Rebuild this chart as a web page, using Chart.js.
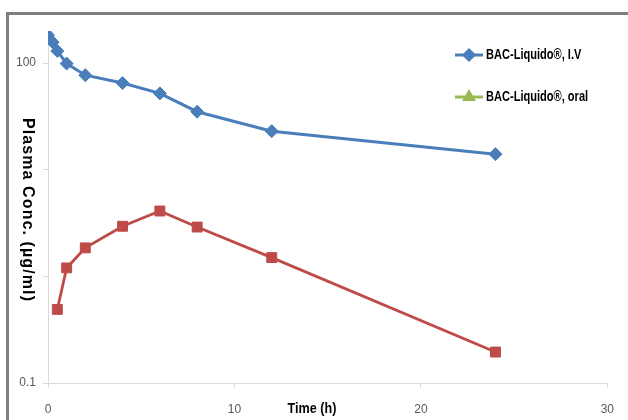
<!DOCTYPE html>
<html>
<head>
<meta charset="utf-8">
<script src="https://cdn.jsdelivr.net/npm/chart.js@4/dist/chart.umd.min.js"></script>
<style>
  html, body { margin: 0; padding: 0; background: #fff; }
</style>
</head>
<body>
<canvas id="c" width="628" height="420"></canvas>
<script>
// time points (h) and plasma concentrations (µg/ml)
const timeIV = [0, 0.25, 0.5, 1, 2, 4, 6, 8, 12, 24];
const concIV = [183, 157, 130, 99, 77, 65, 52, 35, 23, 14];
const timeOral = [0.5, 1, 2, 4, 6, 8, 12, 24];
const concOral = [0.49, 1.2, 1.85, 2.95, 4.1, 2.9, 1.5, 0.195];
const timeOralLegend = [];   // green legend series has no visible points
const concOralLegend = [];

const xTicks = [0, 10, 20, 30];
const yTicks = [0.1, 1, 10, 100];
const yTickLabels = ['0.1', '', '', '100'];  // 1 and 10 sit under the axis title
const seriesNames = ['BAC-Liquido®, I.V', 'BAC-Liquido®, oral'];

const FONT = '"Liberation Sans", Arial, sans-serif';

const toXY = (xs, ys) => xs.map((x, i) => ({ x: x, y: ys[i] }));

// draw text squeezed horizontally, to get the condensed look of the original
function narrowText(ctx, text, x, y, squeeze) {
  ctx.save();
  ctx.translate(x, y);
  ctx.scale(squeeze, 1);
  ctx.fillText(text, 0, 0);
  ctx.restore();
}

const decorations = {
  id: 'decorations',
  afterDraw(chart) {
    const ctx = chart.ctx;
    ctx.save();

    // outer frame (only top and left edges show)
    ctx.strokeStyle = '#808080';
    ctx.lineWidth = 3;
    ctx.beginPath();
    ctx.moveTo(7.5, 420);
    ctx.lineTo(7.5, 13.5);
    ctx.lineTo(628, 13.5);
    ctx.stroke();

    // axis titles
    ctx.fillStyle = '#000';
    ctx.textBaseline = 'middle';
    ctx.textAlign = 'center';
    ctx.font = 'bold 15px ' + FONT;
    narrowText(ctx, 'Time (h)', 312, 409, 0.84);

    ctx.save();
    ctx.translate(27, 210);
    ctx.rotate(Math.PI / 2);
    ctx.font = 'bold 16px ' + FONT;
    ctx.letterSpacing = '1.1px';
    ctx.fillText('Plasma Conc. (µg/ml)', 0, 0);
    ctx.restore();

    // legend
    const rows = [55, 97];
    chart.data.datasets.slice(0, 2).forEach((ds, i) => {
      const y = rows[i];
      ctx.strokeStyle = ds.borderColor;
      ctx.fillStyle = ds.backgroundColor;
      ctx.lineWidth = 3;
      ctx.beginPath();
      ctx.moveTo(455, y);
      ctx.lineTo(483, y);
      ctx.stroke();
      Chart.helpers.drawPoint(ctx, { pointStyle: ds.pointStyle, radius: 5, rotation: 0, borderWidth: 1 }, 469, y);
      ctx.fillStyle = '#000';
      ctx.textAlign = 'left';
      ctx.font = 'bold 14px ' + FONT;
      narrowText(ctx, ds.label, 486, y, 0.79);
    });

    ctx.restore();
  }
};

new Chart(document.getElementById('c'), {
  type: 'line',
  data: {
    datasets: [
      {
        label: seriesNames[0],
        data: toXY(timeIV, concIV),
        borderColor: '#4a7ebb',
        backgroundColor: '#4a7ebb',
        borderWidth: 3,
        pointStyle: 'rectRot',
        pointRadius: 6.5,
        pointBorderWidth: 1
      },
      {
        label: seriesNames[1],
        data: toXY(timeOralLegend, concOralLegend),
        borderColor: '#98b954',
        backgroundColor: '#98b954',
        borderWidth: 3,
        pointStyle: 'triangle',
        pointRadius: 6
      },
      {
        label: 'oral',
        data: toXY(timeOral, concOral),
        borderColor: '#be4b48',
        backgroundColor: '#be4b48',
        borderWidth: 2.8,
        pointStyle: 'rect',
        pointRadius: 7,
        pointBorderWidth: 1
      }
    ]
  },
  options: {
    responsive: false,
    animation: false,
    layout: { padding: { top: 31, right: 10, left: 0, bottom: 0 } },
    plugins: {
      legend: { display: false },
      tooltip: { enabled: false }
    },
    scales: {
      x: {
        type: 'linear',
        min: 0,
        max: 30,
        afterBuildTicks: s => { s.ticks = xTicks.map(v => ({ value: v })); },
        afterFit: s => { s.height = 37; },
        ticks: { color: '#595959', padding: 14, maxRotation: 0, font: { family: FONT, size: 12 } },
        grid: { drawOnChartArea: false, tickLength: 5, color: '#d9d9d9' },
        border: { color: '#d9d9d9', width: 1 }
      },
      y: {
        type: 'logarithmic',
        min: 0.1,
        max: 200,
        afterBuildTicks: s => { s.ticks = yTicks.map(v => ({ value: v })); },
        afterFit: s => { s.width = 48; },
        ticks: {
          color: '#595959',
          padding: 7,
          font: { family: FONT, size: 12 },
          callback: v => yTickLabels[yTicks.indexOf(v)]
        },
        grid: { drawOnChartArea: false, tickLength: 5, color: '#d9d9d9' },
        border: { color: '#d9d9d9', width: 1 }
      }
    }
  },
  plugins: [decorations]
});
</script>
</body>
</html>
